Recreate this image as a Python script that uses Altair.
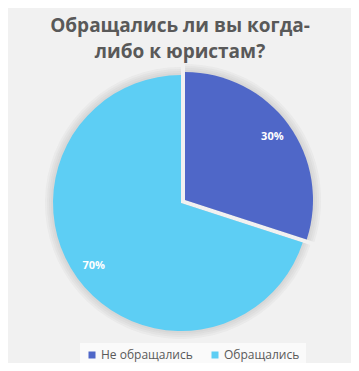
import altair as alt
import pandas as pd

categories = ["Не обращались", "Обращались"]
values = [30, 70]
colors = ["#4F67C8", "#5DCEF4"]
title_lines = ["Обращались ли вы когда-", "либо к юристам?"]

df = pd.DataFrame({"category": categories, "value": values, "order": list(range(len(categories)))})

W, H = 343, 355
CX, CY, R = 173, 195, 128

base = (
    alt.Chart(df)
    .transform_joinaggregate(total="sum(value)")
    .transform_window(cum="sum(value)", sort=[alt.SortField("order")], frame=[None, 0])
    .transform_calculate(
        start="(datum.cum - datum.value) / datum.total",
        end="datum.cum / datum.total",
        mid="(datum.cum - datum.value / 2) / datum.total",
        pct="format(datum.value / datum.total, '.0%')",
        px=f"{CX} + (datum.order == 0 ? 4 : 0)",
        py=f"{CY} + (datum.order == 0 ? -3 : 0)",
    )
)

theta_scale = alt.Scale(domain=[0, 1], range=[0, 6.283185307179586])
color_scale = alt.Scale(domain=categories, range=colors)

def pos():
    return dict(
        x=alt.X("px:Q", scale=None),
        y=alt.Y("py:Q", scale=None),
        theta=alt.Theta("start:Q", scale=theta_scale, stack=None),
        theta2="end:Q",
    )

shadows = [
    base.mark_arc(radius=R + k, color="#8a8a8a", opacity=0.07).encode(**pos())
    for k in (8, 6, 4, 2)
]

arcs = base.mark_arc(radius=R).encode(
    color=alt.Color(
        "category:N",
        scale=color_scale,
        sort=categories,
        legend=alt.Legend(
            orient="none",
            legendX=72,
            legendY=335,
            direction="horizontal",
            title=None,
            symbolType="square",
            symbolSize=49,
            symbolStrokeWidth=0,
            labelFont="Open Sans",
            labelFontSize=12,
            labelColor="#595959",
            columnPadding=16,
            labelOffset=3,
            padding=6,
            fillColor="#fafafa",
        ),
    ),
    **pos(),
)

labels = base.mark_text(
    radius=108, font="Open Sans", fontSize=11, fontWeight="bold", color="white"
).encode(
    x=alt.X("px:Q", scale=None),
    y=alt.Y("py:Q", scale=None),
    theta=alt.Theta("mid:Q", scale=theta_scale, stack=None),
    text="pct:N",
)

title = alt.Chart(pd.DataFrame({"a": [0]})).mark_text(
    text=title_lines,
    font="Open Sans",
    fontSize=19,
    fontWeight="bold",
    color="#595959",
    lineHeight=26,
    align="center",
    baseline="alphabetic",
).encode(x=alt.value(172), y=alt.value(24))

chart = (
    alt.layer(*shadows, arcs, labels, title)
    .properties(width=W, height=H, autosize="none", padding=0, background="#f1f1f1")
    .configure_view(strokeWidth=0)
)

chart.save("out.html", embed_options={"renderer": "svg", "actions": False})
